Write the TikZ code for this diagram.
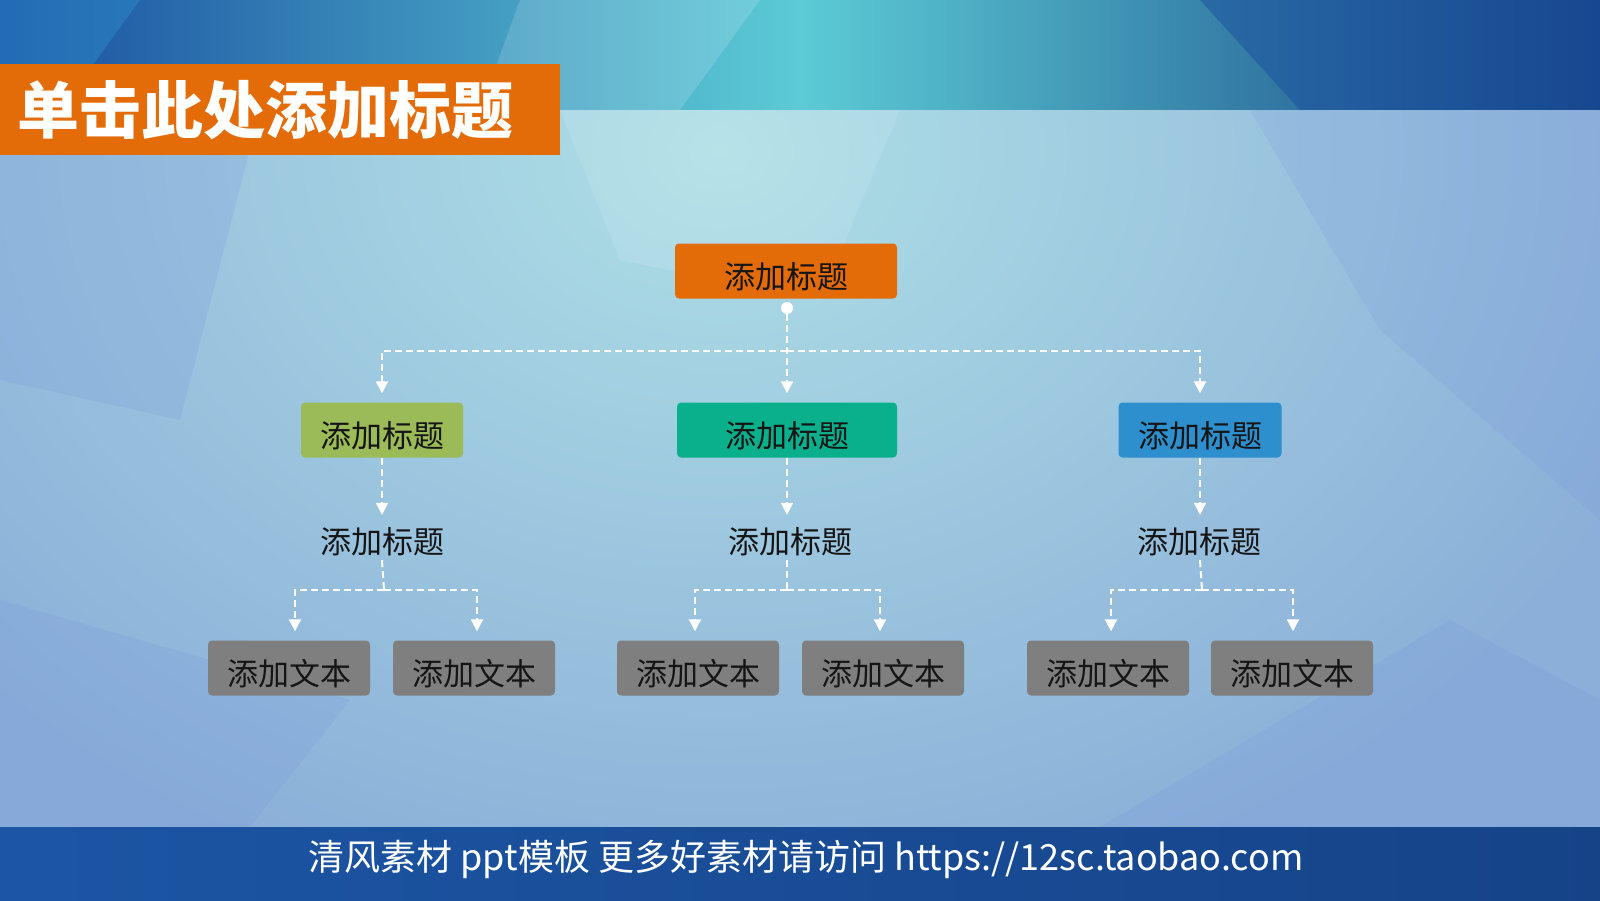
\documentclass[tikz,border=0pt]{standalone}
\usepackage{fontspec}
\newfontfamily\cjk{Noto Sans CJK SC}
\usetikzlibrary{arrows.meta,positioning,calc}
\definecolor{Orange}{HTML}{E36C09}
\definecolor{Leaf}{HTML}{9BBB59}
\definecolor{Teal}{HTML}{0AAF8C}
\definecolor{Sky}{HTML}{2E8FCF}
\definecolor{Stone}{HTML}{7F7F7F}
\definecolor{Ink}{HTML}{151515}
\definecolor{Deep}{HTML}{1A4FA0}
\definecolor{Aqua}{HTML}{5CCBD6}
\definecolor{Mist}{HTML}{8BAFD8}
\definecolor{Glow}{HTML}{AEDFE6}
\pgfdeclareradialshading{glowshade}{\pgfpoint{0bp}{0bp}}{color(0bp)=(Glow); color(14bp)=(Mist); color(50bp)=(Mist)}

\begin{document}
\begin{tikzpicture}[x=1pt,y=-1pt,
    box/.style={rounded corners=4pt,minimum height=55pt,inner sep=0pt,text height=34pt,text depth=0pt,text=Ink,font=\cjk\fontsize{31}{36}\selectfont},
    lbl/.style={minimum height=36pt,inner sep=0pt,text=Ink,font=\cjk\fontsize{31}{36}\selectfont},
    dl/.style={white,line width=2pt,dash pattern=on 7pt off 4pt},
    da/.style={dl,-{Triangle[length=12pt,width=12pt]},shorten >=9pt}]
    % background
    \useasboundingbox (0,0) rectangle (1600,900);
    \fill[left color=Deep,right color=Deep!80!black,middle color=Aqua] (0,0) rectangle (1600,110);
    \fill[Sky,opacity=.45] (0,0) -- (140,0) -- (60,110) -- (0,110) -- cycle;
    \fill[white,opacity=.15] (520,0) -- (760,0) -- (680,110) -- (480,110) -- cycle;
    \fill[Deep,opacity=.5] (1200,0) -- (1600,0) -- (1600,110) -- (1300,110) -- cycle;
    \begin{scope}
      \clip (0,110) rectangle (1600,827);
      \shade[shading=glowshade] (720,150) ellipse (1800 and 1400);
    \end{scope}
    \fill[Mist!90!blue,opacity=.25] (0,110) -- (260,110) -- (180,420) -- (0,380) -- cycle;
    \fill[Mist!80!blue,opacity=.15] (1250,110) -- (1600,110) -- (1600,520) -- (1380,330) -- cycle;
    \fill[white,opacity=.1] (560,110) -- (900,110) -- (820,300) -- (620,260) -- cycle;
    \fill[Mist!85!blue,opacity=.2] (0,600) -- (350,700) -- (250,827) -- (0,827) -- cycle;
    \fill[Mist!85!blue,opacity=.2] (1100,827) -- (1450,620) -- (1600,700) -- (1600,827) -- cycle;
    \fill[left color=Deep!90!Sky,right color=Deep!85!black] (0,827) rectangle (1600,900);
    % title bar
    \node[fill=Orange,anchor=north west,minimum height=91pt,text width=526pt,inner xsep=17pt,inner ysep=0pt,align=left,
      text=white,font=\cjk\bfseries\fontsize{62}{70}\selectfont] (ttl) at (0,64) {单击此处添加标题};
    % tree
    \node[box,fill=Orange,minimum width=222pt] (top) at (786,271) {添加标题};
    \node[circle,fill=white,inner sep=0pt,minimum size=12pt] (dot) at (787,308) {};
    \coordinate (hub) at (787,351);
    \node[box,fill=Leaf,minimum width=162pt] (gre) at (382,430) {添加标题};
    \node[box,fill=Teal,minimum width=220pt] (tea) at (787,430) {添加标题};
    \node[box,fill=Sky,minimum width=163pt] (blu) at (1200,430) {添加标题};
    \draw[da] (dot) -- (tea.north);
    \draw[da] (hub) -| (gre.north);
    \draw[da] (hub) -| (blu.north);
    \node[lbl] (gsub) at (382,542) {添加标题};
    \node[lbl] (tsub) at (790,542) {添加标题};
    \node[lbl] (bsub) at (1199,542) {添加标题};
    \draw[da] (gre.south) -- (gre.south |- gsub.north);
    \draw[da] (tea.south) -- (tea.south |- tsub.north);
    \draw[da] (blu.south) -- (blu.south |- bsub.north);
    \node[box,fill=Stone,minimum width=162pt] (g1) at (289,668) {添加文本};
    \node[box,fill=Stone,minimum width=162pt] (g2) at (474,668) {添加文本};
    \node[box,fill=Stone,minimum width=162pt] (t1) at (698,668) {添加文本};
    \node[box,fill=Stone,minimum width=162pt] (t2) at (883,668) {添加文本};
    \node[box,fill=Stone,minimum width=162pt] (b1) at (1108,668) {添加文本};
    \node[box,fill=Stone,minimum width=162pt] (b2) at (1292,668) {添加文本};
    \coordinate (gsplit) at (384,590);
    \coordinate (tsplit) at (787,590);
    \coordinate (bsplit) at (1202,590);
    \draw[dl] (gre.south |- gsub.south) -- (gsplit);
    \draw[dl] (tea.south |- tsub.south) -- (tsplit);
    \draw[dl] (blu.south |- bsub.south) -- (bsplit);
    \draw[da] (gsplit) -| ($(g1.north)+(6,0)$);
    \draw[da] (gsplit) -| ($(g2.north)+(3,0)$);
    \draw[da] (tsplit) -| ($(t1.north)+(-3,0)$);
    \draw[da] (tsplit) -| ($(t2.north)+(-3,0)$);
    \draw[da] (bsplit) -| ($(b1.north)+(3,0)$);
    \draw[da] (bsplit) -| ($(b2.north)+(1,0)$);
    % footer
    \node[text=white,font=\cjk\fontsize{36}{42}\selectfont] (foot) at (806,859) {清风素材 ppt模板 更多好素材请访问 https://12sc.taobao.com};
\end{tikzpicture}
\end{document}
